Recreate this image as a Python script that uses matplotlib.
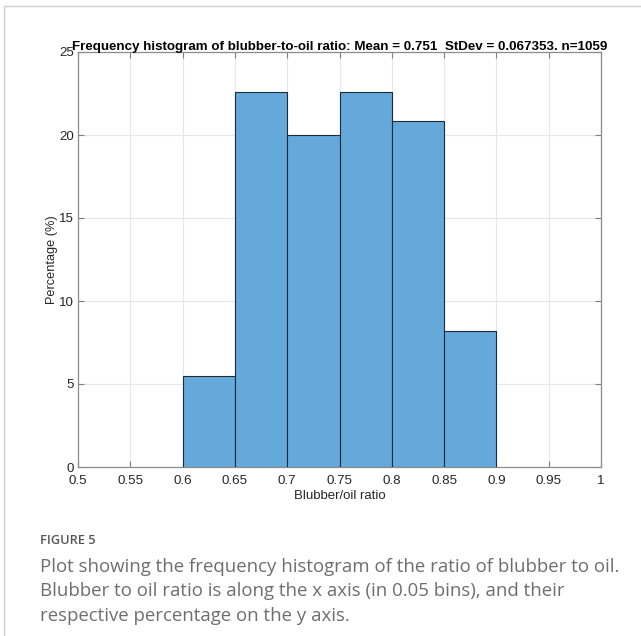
import matplotlib
matplotlib.use("Agg")
import matplotlib.pyplot as plt
from matplotlib.lines import Line2D

# Histogram of blubber-to-oil ratio, 0.05 wide bins
bin_edges = [0.60, 0.65, 0.70, 0.75, 0.80, 0.85, 0.90]
percentages = [5.48, 22.57, 20.02, 22.57, 20.87, 8.22]
x_ticks = [0.5, 0.55, 0.6, 0.65, 0.7, 0.75, 0.8, 0.85, 0.9, 0.95, 1.0]
x_tick_labels = ["0.5", "0.55", "0.6", "0.65", "0.7", "0.75", "0.8", "0.85", "0.9", "0.95", "1"]
y_ticks = [0, 5, 10, 15, 20, 25]

title = "Frequency histogram of blubber-to-oil ratio: Mean = 0.751  StDev = 0.067353. n=1059"
caption_head = "FIGURE 5"
caption_lines = [
    "Plot showing the frequency histogram of the ratio of blubber to oil.",
    "Blubber to oil ratio is along the x axis (in 0.05 bins), and their",
    "respective percentage on the y axis.",
]

plt.rcParams["font.family"] = ["Liberation Sans", "DejaVu Sans"]

fig = plt.figure(figsize=(6.41, 6.36), dpi=100)
ax = fig.add_axes([78 / 641, 1 - 467 / 636, (601 - 78) / 641, (467 - 52) / 636])

lefts = bin_edges[:-1]
widths = [b - a for a, b in zip(bin_edges[:-1], bin_edges[1:])]
ax.bar(lefts, percentages, width=widths, align="edge",
       color="#64a9da", edgecolor="#1c2b3a", linewidth=0.8, zorder=3)

ax.set_xlim(0.5, 1.0)
ax.set_ylim(0, 25)
ax.set_xticks(x_ticks)
ax.set_xticklabels(x_tick_labels)
ax.set_yticks(y_ticks)
ax.grid(True, color="#e6e6e6", linewidth=0.8, zorder=0)
ax.tick_params(direction="in", length=4, width=0.8, color="#808080",
               labelsize=9.6, labelcolor="#262626", top=True, right=True)
ax.tick_params(axis="x", pad=6)
ax.tick_params(axis="y", pad=3)
for s in ax.spines.values():
    s.set_color("#8c8c8c")
    s.set_linewidth(0.9)

ax.set_xlabel("Blubber/oil ratio", fontsize=9.5, color="#262626", labelpad=2)
ax.set_ylabel("Percentage (%)", fontsize=9.2, color="#262626", labelpad=0.5)
ax.set_title(title, fontsize=9.6, fontweight="bold", pad=1.5)

# Caption below the plot
fig.text(40 / 641, 1 - 541 / 636, caption_head, fontsize=9.2, color="#555555",
         family=["Open Sans", "DejaVu Sans"], fontweight="semibold", va="center")
for i, line in enumerate(caption_lines):
    fig.text(40 / 641, 1 - (567 + 24.5 * i) / 636, line, fontsize=13.4, color="#6e6e6e",
             family=["Open Sans", "DejaVu Sans"], va="center")

# Thin page frame on the top and left edges
fig.add_artist(Line2D([4 / 641, 1], [1 - 6 / 636, 1 - 6 / 636], color="#d0d0d0", lw=1,
                      transform=fig.transFigure))
fig.add_artist(Line2D([4 / 641, 4 / 641], [0, 1 - 6 / 636], color="#d0d0d0", lw=1,
                      transform=fig.transFigure))

fig.savefig("out.png", dpi=100)
